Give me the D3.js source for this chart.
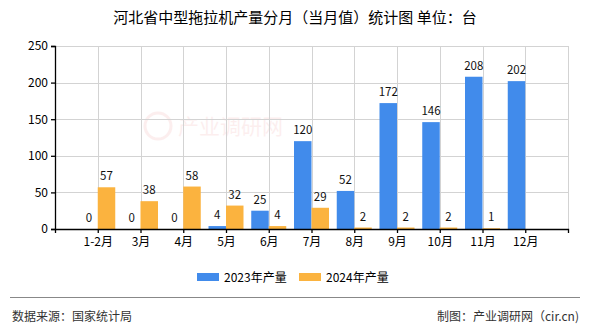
<!DOCTYPE html>
<html>
<head>
<meta charset="utf-8">
<script src="https://cdn.jsdelivr.net/npm/d3@7/dist/d3.min.js"></script>
<style>
  html, body { margin: 0; padding: 0; background: #fff; }
  svg { display: block; font-family: "SimSun", "Noto Sans CJK SC", sans-serif; }
</style>
</head>
<body>
<svg id="chart" width="590" height="330"></svg>
<script>
// Monthly output of medium tractors in Hebei (units)
const months = ["1-2月", "3月", "4月", "5月", "6月", "7月", "8月", "9月", "10月", "11月", "12月"];
const output2023 = [0, 0, 0, 4, 25, 120, 52, 172, 146, 208, 202];
const output2024 = [57, 38, 58, 32, 4, 29, 2, 2, 2, 1, null];
const yTicks = [0, 50, 100, 150, 200, 250];
const seriesNames = ["2023年产量", "2024年产量"];
const colors = ["#418BEB", "#FBB33F"];

const svg = d3.select("#chart");
const plotL = 55, plotR = 568, plotT = 46, plotB = 229;

const x = d3.scalePoint().domain(months).range([plotL, plotR]).padding(1);
const y = d3.scaleLinear().domain([0, 250]).range([plotB, plotT]);
const barW = 17.5;

// faint site mark in the background
const wm = svg.append("g").attr("opacity", 0.07);
wm.append("circle").attr("cx", 158).attr("cy", 126).attr("r", 13).attr("fill", "none").attr("stroke", "#d22").attr("stroke-width", 3);
wm.append("text").attr("x", 178).attr("y", 134).attr("font-size", 21).attr("fill", "#d22").text("产业调研网");

// grid
const grid = svg.append("g").attr("stroke", "#d3d3d3").attr("stroke-width", 1);
yTicks.forEach(t => {
  grid.append("line").attr("x1", plotL).attr("x2", plotR).attr("y1", Math.round(y(t)) + 0.5).attr("y2", Math.round(y(t)) + 0.5);
});
months.forEach(m => {
  grid.append("line").attr("x1", Math.round(x(m)) + 0.5).attr("x2", Math.round(x(m)) + 0.5).attr("y1", plotT).attr("y2", plotB);
});
grid.append("line").attr("x1", plotR + 0.5).attr("x2", plotR + 0.5).attr("y1", plotT).attr("y2", plotB);

// bars with value labels
const g = svg.append("g");
months.forEach((m, i) => {
  const cx = x(m);
  [output2023[i], output2024[i]].forEach((v, s) => {
    if (v === null) return;
    const bx = s === 0 ? cx - barW : cx;
    g.append("rect").attr("x", bx).attr("y", y(v)).attr("width", barW)
      .attr("height", plotB - y(v)).attr("fill", colors[s]);
    g.append("text").attr("x", bx + barW / 2).attr("y", y(v) - 7)
      .attr("text-anchor", "middle").attr("font-size", 11.5).attr("fill", "#111").text(v);
  });
});

// axes
const xAxis = svg.append("g").attr("transform", `translate(0,${plotB})`)
  .call(d3.axisBottom(x).tickSize(4).tickSizeOuter(4).tickPadding(4));
const yAxis = svg.append("g").attr("transform", `translate(${plotL},0)`)
  .call(d3.axisLeft(y).tickValues(yTicks).tickSize(4).tickSizeOuter(4).tickPadding(3));
[xAxis, yAxis].forEach(a => {
  a.selectAll("path, line").attr("stroke", "#000").attr("stroke-width", 1.3);
  a.selectAll("text").attr("fill", "#000").attr("font-size", 12)
    .attr("font-family", "SimSun, 'Noto Sans CJK SC', sans-serif");
});

// title
svg.append("text").attr("x", 295).attr("y", 23).attr("text-anchor", "middle")
  .attr("font-size", 15).attr("fill", "#000").text("河北省中型拖拉机产量分月（当月值）统计图 单位：台");

// legend
const lg = svg.append("g");
[[197, 224], [299, 326]].forEach(([rx, tx], s) => {
  lg.append("rect").attr("x", rx).attr("y", 273).attr("width", 22).attr("height", 8).attr("fill", colors[s]);
  lg.append("text").attr("x", tx).attr("y", 282).attr("font-size", 12).attr("fill", "#000").text(seriesNames[s]);
});

// footer
svg.append("line").attr("x1", 10).attr("x2", 580).attr("y1", 297.5).attr("y2", 297.5).attr("stroke", "#888").attr("stroke-width", 1);
svg.append("text").attr("x", 12).attr("y", 321).attr("font-size", 12).attr("fill", "#333").text("数据来源：国家统计局");
svg.append("text").attr("x", 579).attr("y", 321).attr("text-anchor", "end").attr("font-size", 12).attr("fill", "#333").text("制图：产业调研网（cir.cn)");
</script>
</body>
</html>
